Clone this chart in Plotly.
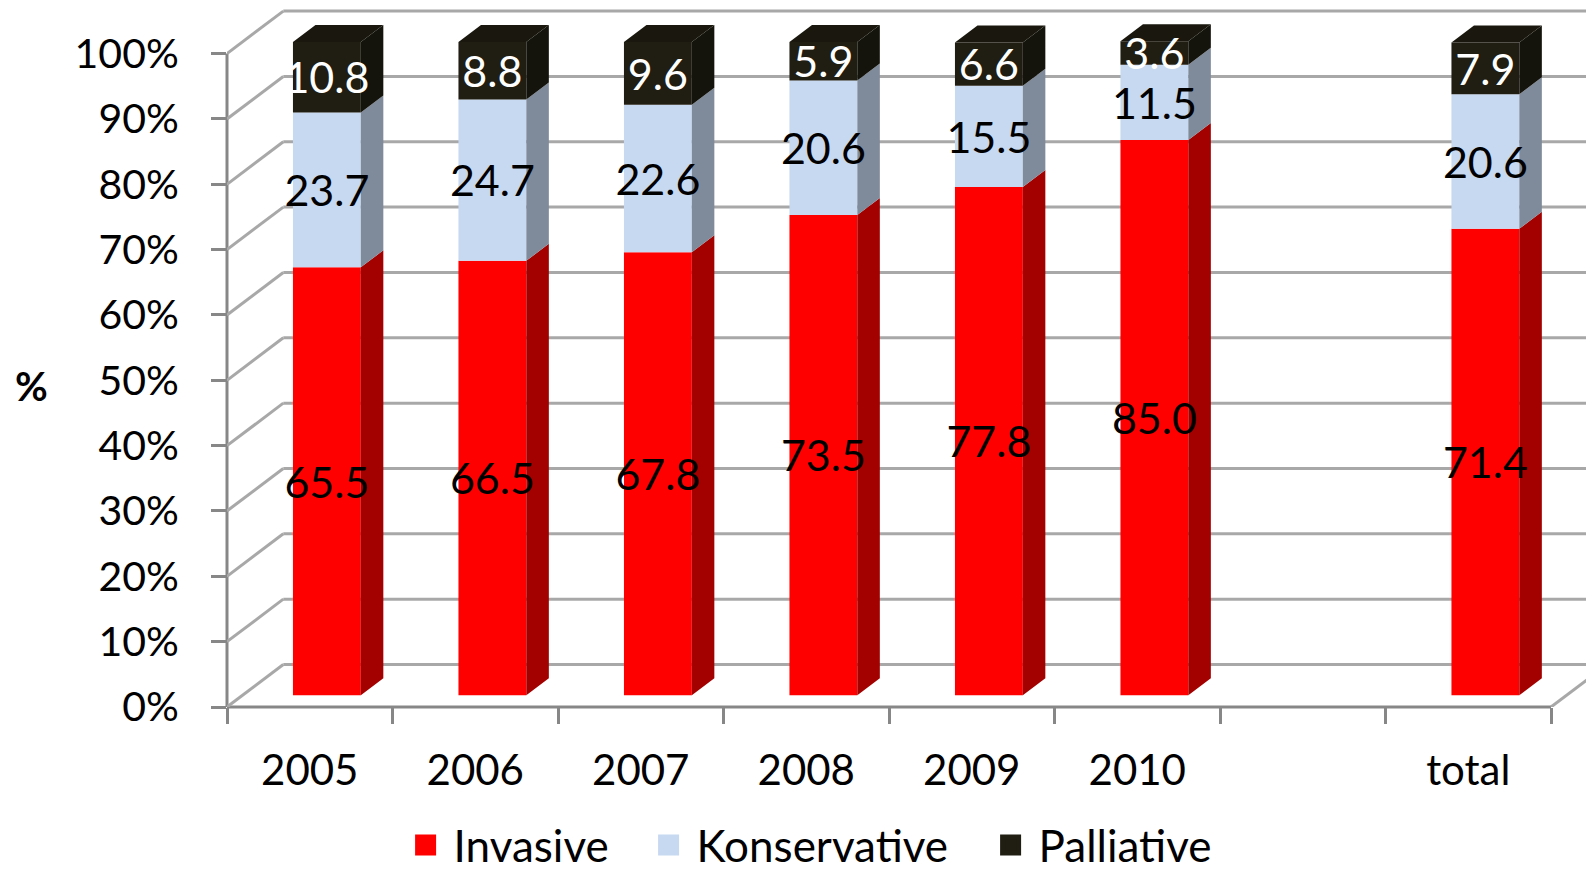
import plotly.graph_objects as go

# ---------------- data ----------------
categories = ["2005", "2006", "2007", "2008", "2009", "2010", "", "total"]
invasive = [65.5, 66.5, 67.8, 73.5, 77.8, 85.0, None, 71.4]
konservative = [23.7, 24.7, 22.6, 20.6, 15.5, 11.5, None, 20.6]
palliative = [10.8, 8.8, 9.6, 5.9, 6.6, 3.6, None, 7.9]
y_tick_values = [0, 10, 20, 30, 40, 50, 60, 70, 80, 90, 100]
y_tick_labels = [f"{v}%" for v in y_tick_values]

# ---------------- 3D look (oblique projection) ----------------
SLOT_PX = 165.5          # pixels per category slot
UNIT_PX = 6.534          # pixels per percent
DX = 56.3 / SLOT_PX      # depth shift in x (slot units)
DY = 42.5 / UNIT_PX      # depth shift in y (percent units)
F1, F2 = 0.275, 0.675    # bar front / back depth fractions
BAR_W, BAR_C = 0.41, 0.51
LABEL_DROP = 5.5 / UNIT_PX

FONT = "Lato"
AX_COL = "#878787"
GRID_COL = "#a8a8a8"

series = [
    ("Invasive", invasive, "#ff0000", "#a30000", "#8a0000", "black", "legend"),
    ("Konservative", konservative, "#c6d9f1", "#7f8b9b", "#6f7b8b", "black", "legend2"),
    ("Palliative", palliative, "#201d12", "#15140c", "#1a180e", "white", "legend3"),
]

n = len(categories)
fig = go.Figure()
cum = [0.0] * n
label_traces = []
face_traces = []
for si, (name, vals, c_front, c_side, c_top, c_text, lg) in enumerate(series):
    idx = [i for i, v in enumerate(vals) if v is not None]
    xs = [i + BAR_C + F1 * DX for i in idx]
    bases = [cum[i] + F1 * DY for i in idx]
    ys = [vals[i] for i in idx]
    fig.add_trace(go.Bar(
        x=xs, y=ys, base=bases, width=BAR_W, name=name,
        marker=dict(color=c_front, line=dict(width=0)),
        showlegend=False, legendgroup=name,
        customdata=[categories[i] for i in idx],
        hovertemplate="%{customdata}: %{y:.1f}%<extra>" + name + "</extra>",
    ))
    sx, sy, tx, ty = [], [], [], []
    lx, ly, lt = [], [], []
    for i in idx:
        b, t = cum[i], cum[i] + vals[i]
        xr_f = i + BAR_C + BAR_W / 2 + F1 * DX
        xr_b = i + BAR_C + BAR_W / 2 + F2 * DX
        sx += [xr_f, xr_f, xr_b, xr_b, xr_f, None]
        sy += [b + F1 * DY, t + F1 * DY, t + F2 * DY, b + F2 * DY, b + F1 * DY, None]
        if si == len(series) - 1:
            xl_f = i + BAR_C - BAR_W / 2 + F1 * DX
            xl_b = i + BAR_C - BAR_W / 2 + F2 * DX
            tx += [xl_f, xr_f, xr_b, xl_b, xl_f, None]
            ty += [t + F1 * DY, t + F1 * DY, t + F2 * DY, t + F2 * DY, t + F1 * DY, None]
        lx.append(i + BAR_C + F1 * DX)
        ly.append(b + vals[i] / 2 + F1 * DY - LABEL_DROP)
        lt.append(f"{vals[i]:.1f}")
    face_traces.append(go.Scatter(
        x=sx, y=sy, mode="lines", fill="toself", fillcolor=c_side,
        line=dict(width=0, color=c_side), showlegend=False, hoverinfo="skip",
        legendgroup=name))
    if tx:
        face_traces.append(go.Scatter(
            x=tx, y=ty, mode="lines", fill="toself", fillcolor=c_top,
            line=dict(width=0, color=c_top), showlegend=False, hoverinfo="skip",
            legendgroup=name))
    label_traces.append(go.Scatter(
        x=lx, y=ly, text=lt, mode="text", showlegend=False, hoverinfo="skip",
        textfont=dict(family=FONT, size=43, color=c_text), legendgroup=name))
    for i in idx:
        cum[i] += vals[i]

for tr in face_traces:
    fig.add_trace(tr)
for tr in label_traces:
    fig.add_trace(tr)

# legend entries (one legend per entry so they can be spaced like the original)
for name, vals, c_front, c_side, c_top, c_text, lg in series:
    fig.add_trace(go.Scatter(
        x=[None], y=[None], mode="markers", name=name, legendgroup=name, legend=lg,
        marker=dict(symbol="square", size=16, color=c_front,
                    line=dict(width=5, color=c_front))))

# ---------------- walls, floor and gridlines ----------------
shapes = []
for v in y_tick_values:
    shapes.append(dict(type="line", xref="x", yref="y", x0=DX, x1=n + DX + 1,
                       y0=v + DY, y1=v + DY, layer="below",
                       line=dict(color=GRID_COL, width=3)))
    shapes.append(dict(type="line", xref="x", yref="y", x0=0, x1=DX,
                       y0=v, y1=v + DY, layer="below",
                       line=dict(color=GRID_COL, width=3)))
shapes.append(dict(type="line", xref="x", yref="y", x0=n, x1=n + DX,
                   y0=0, y1=DY, layer="below", line=dict(color=GRID_COL, width=3)))
shapes.append(dict(type="line", xref="x", yref="paper", x0=0, x1=n,
                   y0=0, y1=0, layer="below", line=dict(color=AX_COL, width=3)))
shapes.append(dict(type="line", xref="paper", yref="y", x0=0, x1=0,
                   y0=0, y1=y_tick_values[-1], layer="below",
                   line=dict(color=AX_COL, width=3)))

# page has an 8px body margin, so the figure is 8px smaller than the window
W, H = 1586, 868
ML, MB = 219, 169
plot_w = W - ML
plot_h = H - MB


def px_x(px):
    return (px - ML) / plot_w


def px_y(py):
    return (plot_h - py) / plot_h


legend_text_starts = [447, 690, 1032]
legend_common = dict(
    orientation="h", xanchor="left", yanchor="bottom", y=px_y(H + 5),
    font=dict(family=FONT, size=44, color="black"),
    bgcolor="rgba(0,0,0,0)", itemwidth=46,
)

fig.update_layout(
    width=W, height=H,
    margin=dict(l=ML, r=0, t=0, b=MB, autoexpand=False),
    paper_bgcolor="white", plot_bgcolor="white",
    barmode="overlay",
    font=dict(family=FONT, size=42, color="black"),
    shapes=shapes,
    xaxis=dict(
        range=[0, plot_w / SLOT_PX],
        tickmode="array",
        tickvals=[i + 0.5 for i in range(n)],
        ticktext=categories,
        ticks="", showgrid=False, zeroline=False, showline=False,
        ticklabelstandoff=35,
        tickfont=dict(family=FONT, size=42, color="black"),
        minor=dict(tickmode="array", tickvals=list(range(n + 1)),
                   ticks="outside", ticklen=16, tickwidth=3, tickcolor=AX_COL,
                   showgrid=False),
        fixedrange=True,
    ),
    yaxis=dict(
        range=[0, plot_h / UNIT_PX],
        tickmode="array",
        tickvals=y_tick_values, ticktext=y_tick_labels,
        ticks="outside", ticklen=15, tickwidth=3, tickcolor=AX_COL,
        showgrid=False, zeroline=False, showline=False,
        ticklabelstandoff=24,
        tickfont=dict(family=FONT, size=41, color="black"),
        fixedrange=True,
    ),
    legend=dict(x=px_x(legend_text_starts[0] - 57.4), **legend_common),
    legend2=dict(x=px_x(legend_text_starts[1] - 57.4), **legend_common),
    legend3=dict(x=px_x(legend_text_starts[2] - 57.4), **legend_common),
    annotations=[dict(
        text="<b>%</b>", xref="paper", yref="paper",
        x=px_x(23.3), y=px_y(378), xanchor="center", yanchor="middle",
        showarrow=False, font=dict(family=FONT, size=40, color="black"),
    )],
)

fig.write_html("out.html")
